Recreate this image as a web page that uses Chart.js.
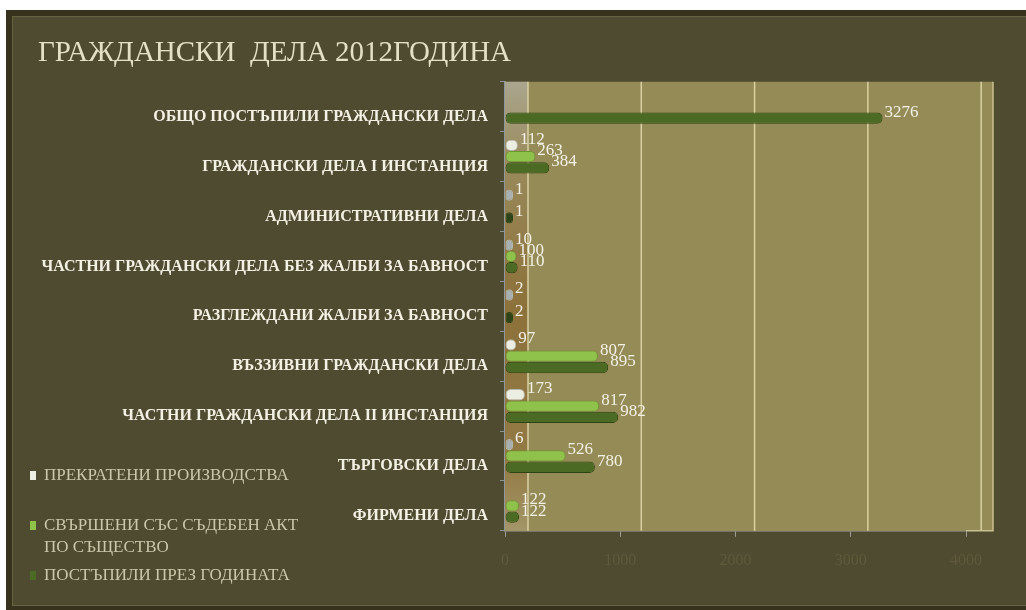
<!DOCTYPE html>
<html>
<head>
<meta charset="utf-8">
<script src="https://cdn.jsdelivr.net/npm/chart.js@4.4.1/dist/chart.umd.min.js"></script>
<style>
    html, body { margin: 0; padding: 0; background: #ffffff; }
    #wrap { position: relative; width: 1026px; height: 610px; overflow: hidden; }
    #frame {
        position: absolute; left: 6px; top: 10px; width: 1040px; height: 590px;
        background: #4f4b31; border: 6px solid #36321c;
        box-shadow: inset 0 0 0 1px #67623f;
    }
    #chart { position: absolute; left: 0; top: 0; }
    #legend {
        position: absolute; left: 30px; top: 464px; width: 289px;
        font-family: 'Liberation Serif', serif; font-size: 17px; line-height: 22px;
        color: #cbc7aa;
    }
    #legend .item { position: relative; padding-left: 14px; }
    #legend .mark { position: absolute; left: 0; top: 7px; width: 6px; height: 9px; }
</style>
</head>
<body>
<div id="wrap">
    <div id="frame"></div>
    <canvas id="chart" width="1026" height="610"></canvas>
    <div id="legend"></div>
</div>
<script>
const categories = [
    'ОБЩО ПОСТЪПИЛИ ГРАЖДАНСКИ ДЕЛА',
    'ГРАЖДАНСКИ ДЕЛА I ИНСТАНЦИЯ',
    'АДМИНИСТРАТИВНИ ДЕЛА',
    'ЧАСТНИ ГРАЖДАНСКИ ДЕЛА БЕЗ ЖАЛБИ ЗА БАВНОСТ',
    'РАЗГЛЕЖДАНИ ЖАЛБИ ЗА БАВНОСТ',
    'ВЪЗЗИВНИ ГРАЖДАНСКИ ДЕЛА',
    'ЧАСТНИ ГРАЖДАНСКИ ДЕЛА II ИНСТАНЦИЯ',
    'ТЪРГОВСКИ ДЕЛА',
    'ФИРМЕНИ ДЕЛА',
];
const terminated = [null, 112, 1, 10, 2, 97, 173, 6, null];
const resolved = [null, 263, null, 100, null, 807, 817, 526, 122];
const received = [3276, 384, 1, 110, 2, 895, 982, 780, 122];
const valueTicks = [0, 1000, 2000, 3000, 4000];

const serif = "'Liberation Serif', 'DejaVu Serif', serif";

// plot wall, shifted grid lines (fake 3D depth)
const plotBackground = {
    id: 'plotBackground',
    beforeDatasetsDraw(chart) {
        const {ctx, chartArea: a, scales} = chart;
        const depth = 23;
        ctx.save();
        ctx.fillStyle = '#958b56';
        ctx.fillRect(a.left, a.top, a.right - a.left + 27, a.bottom - a.top);
        const wall = ctx.createLinearGradient(0, a.top, 0, a.bottom);
        wall.addColorStop(0, '#aaa68e');
        wall.addColorStop(0.18, '#9a8a5c');
        wall.addColorStop(0.5, '#8c713a');
        wall.addColorStop(0.85, '#937a45');
        wall.addColorStop(1, '#a39668');
        ctx.fillStyle = wall;
        ctx.fillRect(a.left, a.top, depth, a.bottom - a.top);
        ctx.strokeStyle = '#d9d1a2';
        ctx.lineWidth = 1.5;
        valueTicks.forEach((v) => {
            const px = scales.x.getPixelForValue(v);
            const gx = a.left + depth + (px - a.left) * 0.983;
            ctx.beginPath();
            ctx.moveTo(gx, a.top);
            ctx.lineTo(gx, a.bottom);
            ctx.stroke();
        });
        ctx.strokeStyle = '#c9c190';
        ctx.beginPath();
        ctx.moveTo(a.right + 27, a.top);
        ctx.lineTo(a.right + 27, a.bottom);
        ctx.lineTo(a.right, a.bottom);
        ctx.stroke();
        ctx.restore();
    },
};

const valueLabels = {
    id: 'valueLabels',
    afterDatasetsDraw(chart) {
        const ctx = chart.ctx;
        ctx.save();
        ctx.font = '17px ' + serif;
        ctx.fillStyle = '#f3f1e6';
        ctx.textAlign = 'left';
        ctx.textBaseline = 'middle';
        chart.data.datasets.forEach((ds, i) => {
            chart.getDatasetMeta(i).data.forEach((el, j) => {
                const v = ds.data[j];
                if (v === null) return;
                ctx.fillText(String(v), el.x + 2, el.y - 6);
            });
        });
        ctx.restore();
    },
};

const ctx = document.getElementById('chart').getContext('2d');
const chart = new Chart(ctx, {
    type: 'bar',
    data: {
        labels: categories,
        datasets: [{
            label: 'ПРЕКРАТЕНИ ПРОИЗВОДСТВА',
            data: terminated,
            backgroundColor: (c) => (c.raw !== null && c.raw < 20) ? '#a9b0b1' : '#eceee4',
            borderColor: '#b5b9ab',
            mark: '#eceee4',
        }, {
            label: 'СВЪРШЕНИ СЪС СЪДЕБЕН АКТ ПО СЪЩЕСТВО',
            data: resolved,
            backgroundColor: '#8fc24b',
            borderColor: '#6a9530',
            mark: '#8fc24b',
        }, {
            label: 'ПОСТЪПИЛИ ПРЕЗ ГОДИНАТА',
            data: received,
            backgroundColor: (c) => (c.raw !== null && c.raw < 20) ? '#2d4419' : '#4b6a23',
            borderColor: '#2c4313',
            mark: '#4b6a23',
        }],
    },
    options: {
        indexAxis: 'y',
        responsive: false,
        animation: false,
        layout: {
            padding: {left: 38, top: 22, right: 60, bottom: 26},
        },
        datasets: {
            bar: {
                categoryPercentage: 0.68,
                barPercentage: 1.0,
                borderRadius: 5,
                borderSkipped: false,
                borderWidth: 1,
                minBarLength: 8,
            },
        },
        scales: {
            x: {
                type: 'linear',
                min: 0,
                max: 4000,
                afterBuildTicks: (scale) => {
                    scale.ticks = valueTicks.map((v) => ({value: v}));
                },
                grid: {
                    drawOnChartArea: false,
                    drawTicks: true,
                    tickLength: 6,
                    color: '#9c9d96',
                },
                border: {color: '#9c9d96', width: 1.5},
                ticks: {
                    color: '#5f5a3b',
                    padding: 14,
                    font: {family: serif, size: 16},
                    callback: (v) => String(v),
                },
            },
            y: {
                type: 'category',
                offset: true,
                afterFit: (scale) => { scale.width = 467; },
                grid: {
                    drawOnChartArea: false,
                    drawTicks: true,
                    tickLength: 5,
                    offset: true,
                    color: '#8e949c',
                },
                border: {color: '#8e96a0', width: 2},
                ticks: {
                    color: '#f3f0e4',
                    padding: 12,
                    labelOffset: 10,
                    font: {family: serif, size: 16, weight: 'bold'},
                },
            },
        },
        plugins: {
            legend: {display: false},
            tooltip: {enabled: false},
            title: {
                display: true,
                text: 'ГРАЖДАНСКИ  ДЕЛА 2012ГОДИНА',
                align: 'start',
                color: '#e4e0c6',
                font: {family: serif, size: 29, weight: 'normal'},
                padding: {top: 14, bottom: 11},
            },
        },
    },
    plugins: [plotBackground, valueLabels],
});

// legend on the lower left, built from the datasets
const legendBox = document.getElementById('legend');
const gaps = [28, 6, 0];
chart.data.datasets.forEach((ds, i) => {
    const item = document.createElement('div');
    item.className = 'item';
    item.style.marginBottom = gaps[i] + 'px';
    const mark = document.createElement('span');
    mark.className = 'mark';
    mark.style.background = ds.mark;
    item.appendChild(mark);
    item.appendChild(document.createTextNode(ds.label));
    legendBox.appendChild(item);
});
</script>
</body>
</html>
